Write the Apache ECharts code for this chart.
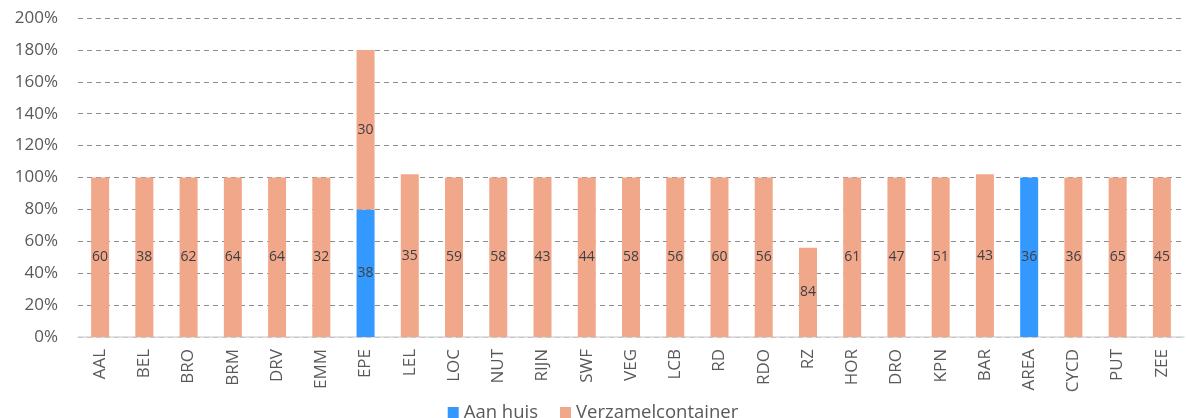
<!DOCTYPE html>
<html><head><meta charset="utf-8">
<script src="https://cdn.jsdelivr.net/npm/echarts@6/dist/echarts.min.js"></script>
<style>html,body{margin:0;padding:0;background:#fff;overflow:hidden}#c{width:1186px;height:418px}</style>
</head><body><div id="c"></div>
<script>
const categories = ['AAL','BEL','BRO','BRM','DRV','EMM','EPE','LEL','LOC','NUT','RIJN','SWF','VEG','LCB','RD','RDO','RZ','HOR','DRO','KPN','BAR','AREA','CYCD','PUT','ZEE'];
const aanHuis =     [null,null,null,null,null,null,80,null,null,null,null,null,null,null,null,null,null,null,null,null,null,100,null,null,null];
const verzamel =    [100,100,100,100,100,100,100,102,100,100,100,100,100,100,100,100,56,100,100,100,102,null,100,100,100];
const aanHuisLabels =  [null,null,null,null,null,null,38,null,null,null,null,null,null,null,null,null,null,null,null,null,null,36,null,null,null];
const verzamelLabels = [60,38,62,64,64,32,30,35,59,58,43,44,58,56,60,56,84,61,47,51,43,null,36,65,45];
const yTicks = [0,20,40,60,80,100,120,140,160,180,200];

const font = '"Open Sans", sans-serif';
function mk(vals, labs){
  return vals.map((v,i)=>({value:v, lab: labs[i]}));
}
const chart = echarts.init(document.getElementById('c'));
chart.setOption({
  animation:false,
  textStyle:{fontFamily:font},
  grid:{left:78,right:2,top:18,bottom:81,containLabel:false},
  legend:{top:398,left:'center',itemWidth:11,itemHeight:11,itemGap:22,
    textStyle:{fontFamily:font,fontSize:18.5,color:'#595959'},
    data:[{name:'Aan huis',icon:'rect'},{name:'Verzamelcontainer',icon:'rect'}]},
  xAxis:{type:'category',data:categories,
    axisLine:{lineStyle:{color:'#d9d9d9',width:1.5}},axisTick:{show:false},
    axisLabel:{rotate:90,fontSize:17,color:'#595959',fontFamily:font,margin:12,interval:0}},
  yAxis:{type:'value',min:yTicks[0],max:yTicks[yTicks.length-1],interval:20,
    axisLine:{show:false},axisTick:{show:false},
    splitLine:{lineStyle:{color:'#8c8c8c',type:[5,4],width:1}},
    axisLabel:{formatter:'{value}%',fontSize:17,color:'#595959',fontFamily:font,margin:20}},
  series:[
    {name:'Aan huis',type:'bar',stack:'t',barWidth:18,data:mk(aanHuis,aanHuisLabels),
     itemStyle:{color:'#3399FF'},
     label:{show:true,position:'inside',fontSize:14,color:'#404040',fontFamily:font,
       formatter:p=>p.data.lab==null?'':String(p.data.lab)}},
    {name:'Verzamelcontainer',type:'bar',stack:'t',barWidth:18,data:mk(verzamel,verzamelLabels),
     itemStyle:{color:'#F1A78A'},
     label:{show:true,position:'inside',fontSize:14,color:'#404040',fontFamily:font,
       formatter:p=>p.data.lab==null?'':String(p.data.lab)}}
  ]
});
</script></body></html>
